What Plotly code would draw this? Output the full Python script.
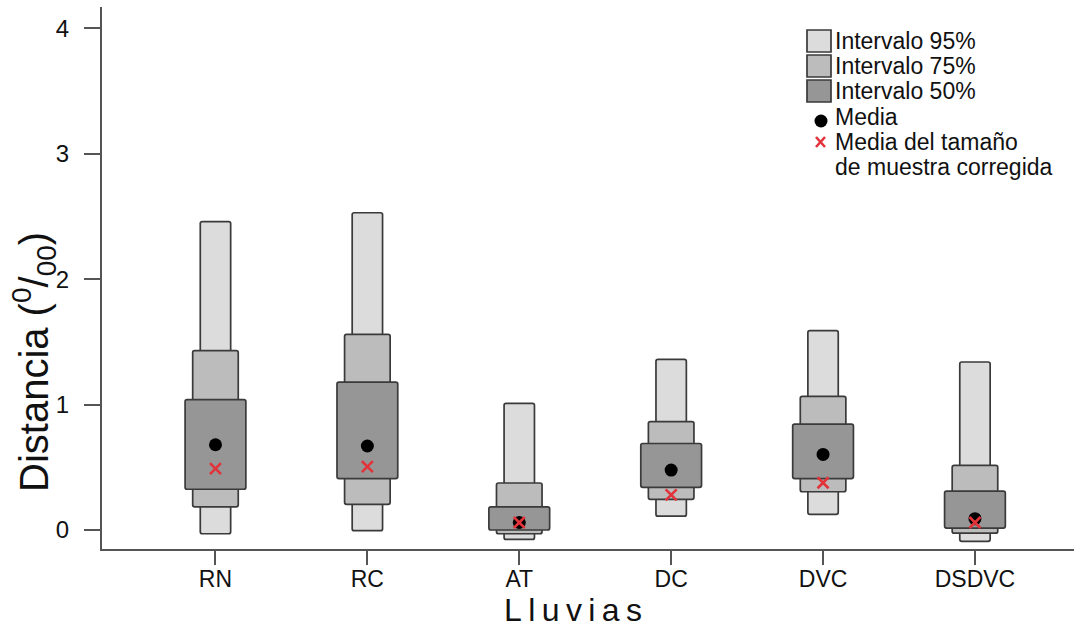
import plotly.graph_objects as go

categories = ["RN", "RC", "AT", "DC", "DVC", "DSDVC"]
lo95 = [-0.03, -0.005, -0.075, 0.11, 0.125, -0.09]
hi95 = [2.46, 2.53, 1.01, 1.36, 1.59, 1.34]
lo75 = [0.185, 0.205, -0.03, 0.245, 0.305, -0.025]
hi75 = [1.43, 1.56, 0.375, 0.865, 1.065, 0.515]
lo50 = [0.325, 0.41, 0.0, 0.34, 0.41, 0.015]
hi50 = [1.04, 1.18, 0.185, 0.69, 0.845, 0.31]
media = [0.68, 0.67, 0.06, 0.478, 0.603, 0.09]
media_corr = [0.49, 0.505, 0.06, 0.28, 0.377, 0.06]

xs = list(range(len(categories)))

W, H = 1079, 644
L, R, T, B = 102, 5, 7, 95
PW, PH = W - L - R, H - T - B

def px(x):
    return (x - L) / PW

def py(y):
    return (H - B - y) / PH

c95, c75, c50 = "#dcdcdc", "#bcbcbc", "#969696"
edge = "#3a3a3a"
red = "#e2333b"

fig = go.Figure()
for lo, hi, w, col in [(lo95, hi95, 0.2, c95), (lo75, hi75, 0.3, c75), (lo50, hi50, 0.4, c50)]:
    fig.add_trace(go.Bar(
        x=xs, y=[h - l for h, l in zip(hi, lo)], base=lo, width=w,
        marker=dict(color=col, line=dict(color=edge, width=1.7), cornerradius=2),
        showlegend=False, hoverinfo="skip"))

fig.add_trace(go.Scatter(x=xs, y=media, mode="markers",
                         marker=dict(symbol="circle", size=13, color="black"),
                         showlegend=False))
fig.add_trace(go.Scatter(x=xs, y=media_corr, mode="markers",
                         marker=dict(symbol="x-thin", size=11, line=dict(color=red, width=2.6)),
                         showlegend=False))

font = "Liberation Sans, Arial, sans-serif"

shapes = []
annotations = []
leg_items = [("Intervalo 95%", c95), ("Intervalo 75%", c75), ("Intervalo 50%", c50)]
for i, (lab, col) in enumerate(leg_items):
    y0 = 30 + 25 * i
    shapes.append(dict(type="rect", xref="paper", yref="paper",
                       x0=px(807), x1=px(831), y0=py(y0), y1=py(y0 + 22),
                       fillcolor=col, line=dict(color=edge, width=1.7)))
    annotations.append(dict(xref="paper", yref="paper", x=px(833), y=py(y0 + 11),
                            text=lab, showarrow=False, xanchor="left", yanchor="middle",
                            font=dict(family=font, size=23, color="#111")))
shapes.append(dict(type="circle", xref="paper", yref="paper",
                   x0=px(814.5), x1=px(827.5), y0=py(114.5), y1=py(127.5),
                   fillcolor="black", line=dict(color="black", width=0)))
annotations.append(dict(xref="paper", yref="paper", x=px(833), y=py(117),
                        text="Media", showarrow=False, xanchor="left", yanchor="middle",
                        font=dict(family=font, size=23, color="#111")))
for (xa, ya, xb, yb) in [(816, 137, 825, 147), (816, 147, 825, 137)]:
    shapes.append(dict(type="line", xref="paper", yref="paper",
                       x0=px(xa), y0=py(ya), x1=px(xb), y1=py(yb),
                       line=dict(color=red, width=2.6)))
annotations.append(dict(xref="paper", yref="paper", x=px(833), y=py(142),
                        text="Media del tamaño", showarrow=False, xanchor="left", yanchor="middle",
                        font=dict(family=font, size=23, color="#111")))
annotations.append(dict(xref="paper", yref="paper", x=px(833), y=py(167),
                        text="de muestra corregida", showarrow=False, xanchor="left", yanchor="middle",
                        font=dict(family=font, size=23, color="#111")))
# axis titles
annotations.append(dict(xref="paper", yref="paper", x=px(573), y=py(610),
                        text="L\u2009l\u2009u\u2009v\u2009i\u2009a\u2009s", showarrow=False,
                        xanchor="center", yanchor="middle",
                        font=dict(family=font, size=32, color="#111")))
annotations.append(dict(xref="paper", yref="paper", x=px(34), y=py(362),
                        text="Distancia (<sup>0</sup>/<sub>00</sub>)", showarrow=False,
                        textangle=-90, xanchor="center", yanchor="middle",
                        font=dict(family=font, size=40, color="#111")))

fig.update_layout(
    width=W, height=H, margin=dict(l=L, r=R, t=T, b=B),
    plot_bgcolor="white", paper_bgcolor="white",
    barmode="overlay", showlegend=False,
    shapes=shapes, annotations=annotations,
    xaxis=dict(range=[-0.747, 5.652], tickvals=xs, ticktext=categories,
               showgrid=False, zeroline=False, showline=True, linecolor="#555", linewidth=2,
               ticks="outside", ticklen=14, tickwidth=1.5, tickcolor="#555",
               ticklabelstandoff=-6,
               tickfont=dict(family=font, size=23, color="#111")),
    yaxis=dict(range=[-0.1515, 4.171], tickvals=[0, 1, 2, 3, 4],
               showgrid=False, zeroline=False, showline=True, linecolor="#555", linewidth=2,
               ticks="outside", ticklen=16, tickwidth=1.5, tickcolor="#555",
               ticklabelstandoff=10,
               tickfont=dict(family=font, size=24, color="#111")),
)

fig.write_html("out.html")
